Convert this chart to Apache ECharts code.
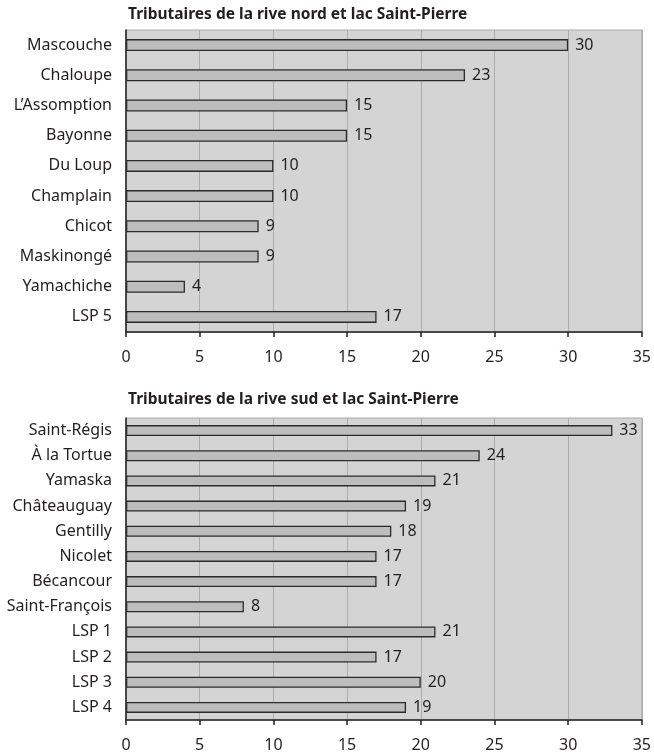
<!DOCTYPE html>
<html><head><meta charset="utf-8">
<script src="https://cdn.jsdelivr.net/npm/echarts@6/dist/echarts.min.js"></script>
<style>html,body{margin:0;padding:0;background:#fff}#c{width:654px;height:754px}</style>
</head><body><div id="c"></div>
<script>
const title1 = 'Tributaires de la rive nord et lac Saint-Pierre';
const title2 = 'Tributaires de la rive sud et lac Saint-Pierre';
const northCategories = ['Mascouche','Chaloupe','L\u2019Assomption','Bayonne','Du Loup','Champlain','Chicot','Maskinongé','Yamachiche','LSP 5'];
const northValues = [30,23,15,15,10,10,9,9,4,17];
const southCategories = ['Saint-Régis','À la Tortue','Yamaska','Châteauguay','Gentilly','Nicolet','Bécancour','Saint-François','LSP 1','LSP 2','LSP 3','LSP 4'];
const southValues = [33,24,21,19,18,17,17,8,21,17,20,19];
const xTicks = [0,5,10,15,20,25,30,35];

const FONT = '"Noto Sans", "Open Sans", sans-serif';
const TXT = '#231f20';
const FS = 16;
const chart = echarts.init(document.getElementById('c'));

function xAxis(gi){
  return {
    type:'value', gridIndex:gi, min:0, max:35, interval:5,
    axisLine:{show:true, onZero:false, lineStyle:{color:'#231f20', width:1.5}},
    axisTick:{show:true, length:5, lineStyle:{color:'#231f20', width:1.5}},
    axisLabel:{color:TXT, fontFamily:FONT, fontSize:FS, margin:17,
      formatter: v => xTicks.includes(v) ? String(v) : ''},
    splitLine:{show:true, lineStyle:{color:'#acacac', width:1}}
  };
}
function yAxis(gi, cats){
  return {
    type:'category', gridIndex:gi, data:cats, inverse:true,
    axisLine:{show:true, lineStyle:{color:'#231f20', width:1.5}},
    axisTick:{show:false},
    axisLabel:{color:TXT, fontFamily:FONT, fontSize:FS, margin:14}
  };
}
function series(gi, vals, bw){
  return {
    type:'bar', xAxisIndex:gi, yAxisIndex:gi, data:vals, barWidth:bw,
    itemStyle:{color:'#bdbdbd', borderColor:'#2b2b2b', borderWidth:1.3},
    label:{show:true, position:'right', distance:7, color:TXT, fontFamily:FONT, fontSize:FS},
    silent:true, animation:false
  };
}

chart.setOption({
  animation:false,
  title:[
    {text:title1, left:123, top:2, textStyle:{fontFamily:FONT, fontWeight:'bold', fontSize:15.5, color:TXT}},
    {text:title2, left:123, top:387, textStyle:{fontFamily:FONT, fontWeight:'bold', fontSize:15.5, color:TXT}}
  ],
  grid:[
    {left:126, top:30, right:9, height:302, show:true, backgroundColor:'#d4d4d4', borderColor:'#a8a8a8', borderWidth:1},
    {left:126, top:418, right:10, height:302, show:true, backgroundColor:'#d4d4d4', borderColor:'#a8a8a8', borderWidth:1}
  ],
  xAxis:[xAxis(0), xAxis(1)],
  yAxis:[yAxis(0, northCategories), yAxis(1, southCategories)],
  series:[series(0, northValues, 12), series(1, southValues, 11)]
});
</script></body></html>
